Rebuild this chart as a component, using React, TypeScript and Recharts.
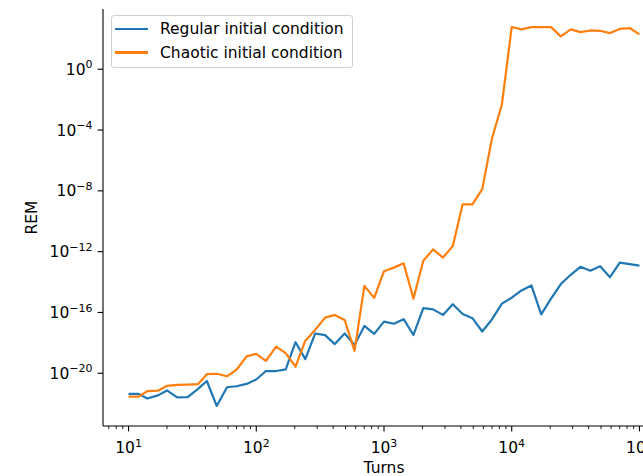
import { LineChart, Line, XAxis, YAxis, Legend } from 'recharts';

// Turn counts (log-spaced, 13 per decade)
const turns = [
  10, 12, 14, 17, 20, 24, 29, 35, 41, 49, 59, 70, 84, 100, 119, 143, 170, 203, 242, 289, 346, 412, 492,
  588, 702, 838, 1000, 1194, 1425, 1701, 2031, 2424, 2894, 3455, 4125, 4924, 5878, 7017, 8377, 10000,
  11938, 14251, 17013, 20310, 24245, 28943, 34551, 41246, 49239, 58780, 70170, 83768, 100000,
];

const regular = [
  4.4e-22, 4.4e-22, 2.2e-22, 3.5e-22, 7.4e-22, 2.6e-22, 2.7e-22, 9.3e-22, 3.1e-21, 7.1e-23,
  1.2e-21, 1.4e-21, 2.0e-21, 3.9e-21, 1.4e-20, 1.4e-20, 1.8e-20, 1.1e-18, 8.5e-20, 4.1e-18,
  3.2e-18, 8.3e-19, 4.1e-18, 7.2e-19, 1.3e-17, 3.9e-18, 2.5e-17, 1.8e-17, 3.6e-17, 3.3e-18,
  1.9e-16, 1.6e-16, 6.9e-17, 3.5e-16, 7.9e-17, 4.2e-17, 5.6e-18, 3.6e-17, 3.8e-16, 9.3e-16,
  2.8e-15, 6.0e-15, 7.4e-17, 8.1e-16, 7.4e-15, 3.0e-14, 1.0e-13, 5.6e-14, 1.1e-13, 2.1e-14,
  1.9e-13, 1.5e-13, 1.2e-13,
];

const chaotic = [
  2.9e-22, 2.9e-22, 6.6e-22, 7.1e-22, 1.5e-21, 1.7e-21, 1.8e-21, 1.9e-21, 8.7e-21, 9.3e-21,
  6.3e-21, 1.7e-20, 1.3e-19, 1.9e-19, 6.6e-20, 5.6e-19, 2.1e-19, 2.7e-20, 1.4e-18, 7.1e-18,
  4.6e-17, 6.9e-17, 3.2e-17, 3.0e-19, 5.6e-15, 9.1e-16, 5.2e-14, 8.9e-14, 1.7e-13, 7.9e-16,
  2.5e-13, 1.4e-12, 4.1e-13, 2.3e-12, 1.3e-9, 1.3e-9, 1.3e-8, 3.0e-5, 4.8e-3, 603,
  417, 589, 603, 589, 145, 417, 275, 355, 339, 240,
  447, 513, 195,
];

const xMajorTicks = [10, 100, 1000, 10000, 100000];
const xMinorTicks = [7, 8, 9, 20, 30, 40, 50, 60, 70, 80, 90, 200, 300, 400, 500, 600, 700, 800, 900,
  2000, 3000, 4000, 5000, 6000, 7000, 8000, 9000, 20000, 30000, 40000, 50000, 60000, 70000, 80000, 90000];
const yTicks = [1e-20, 1e-16, 1e-12, 1e-8, 1e-4, 1];

const seriesNames = ['Regular initial condition', 'Chaotic initial condition'];
const BLUE = '#1f77b4';
const ORANGE = '#ff7f0e';
const FONT = '"DejaVu Sans", sans-serif';
const FS = 15.5;

const data = turns.map((t, i) => ({ turns: t, regular: regular[i], chaotic: chaotic[i] }));

function expLabel(v: number) {
  const e = Math.round(Math.log10(v));
  return e < 0 ? `\u2212${-e}` : String(e);
}

function XTick({ x, y, payload }: any) {
  const major = xMajorTicks.includes(payload.value);
  return (
    <g>
      <line x1={x} x2={x} y1={y} y2={y + (major ? 5.4 : 3.1)} stroke="#000" strokeWidth={major ? 1.1 : 0.9} />
      {major && (
        <text x={x} y={y + 27} textAnchor="middle" fontFamily={FONT} fontSize={FS} fill="#000">
          10<tspan dy={-6.5} fontSize={11}>{expLabel(payload.value)}</tspan>
        </text>
      )}
    </g>
  );
}

function YTick({ x, y, payload }: any) {
  return (
    <g>
      <line x1={x - 5.4} x2={x} y1={y} y2={y} stroke="#000" strokeWidth={1.1} />
      <text x={x - 10.5} y={y + 5.6} textAnchor="end" fontFamily={FONT} fontSize={FS} fill="#000">
        10<tspan dy={-6.5} fontSize={11}>{expLabel(payload.value)}</tspan>
      </text>
    </g>
  );
}

function LegendBox() {
  const rows = [
    { name: seriesNames[0], color: BLUE },
    { name: seriesNames[1], color: ORANGE },
  ];
  return (
    <div
      style={{
        background: 'rgba(255,255,255,0.8)',
        border: '1px solid #d0d0d0',
        borderRadius: 3,
        padding: '1.5px 8px 2.7px 3px',
        fontFamily: FONT,
        fontSize: FS,
        color: '#000',
      }}
    >
      {rows.map((r) => (
        <div key={r.name} style={{ display: 'flex', alignItems: 'center', height: 23.4, whiteSpace: 'nowrap' }}>
          <span style={{ width: 33, height: 2.2, background: r.color, marginRight: 12 }} />
          <span>{r.name}</span>
        </div>
      ))}
    </div>
  );
}

export default function App() {
  return (
    <div style={{ position: 'fixed', left: 0, top: 0, width: 643, height: 476, overflow: 'hidden', background: '#fff' }}>
      <LineChart width={700} height={476} data={data} margin={{ top: 9, right: 35, left: 0, bottom: 0 }}>
        <XAxis
          dataKey="turns"
          type="number"
          scale="log"
          domain={[6.31, 158489]}
          allowDataOverflow
          ticks={[...xMinorTicks, ...xMajorTicks]}
          interval={0}
          tick={<XTick />}
          tickLine={false}
          tickSize={0}
          tickMargin={0}
          height={50}
          axisLine={{ stroke: '#000', strokeWidth: 1.1 }}
          label={{ value: 'Turns', position: 'insideBottom', offset: 3, style: { fontFamily: FONT, fontSize: FS, fill: '#000' } }}
        />
        <XAxis
          xAxisId="top"
          orientation="top"
          dataKey="turns"
          type="number"
          scale="log"
          domain={[6.31, 158489]}
          allowDataOverflow
          height={0}
          tick={false}
          tickLine={false}
          axisLine={{ stroke: '#000', strokeWidth: 1.1 }}
        />
        <YAxis
          type="number"
          scale="log"
          domain={[3.39e-24, 9180]}
          allowDataOverflow
          ticks={yTicks}
          interval={0}
          tick={<YTick />}
          tickLine={false}
          tickSize={0}
          tickMargin={0}
          width={103}
          axisLine={{ stroke: '#000', strokeWidth: 1.1 }}
          label={{
            value: 'REM',
            angle: -90,
            position: 'insideLeft',
            offset: 31,
            style: { textAnchor: 'middle', fontFamily: FONT, fontSize: FS, fill: '#000' },
          }}
        />
        <Legend
          layout="vertical"
          align="center"
          verticalAlign="middle"
          content={<LegendBox />}
          wrapperStyle={{ left: 111, top: 15, width: 'auto', height: 'auto' }}
        />
        <Line
          type="linear"
          dataKey="regular"
          name={seriesNames[0]}
          stroke={BLUE}
          strokeWidth={2.2}
          strokeLinejoin="round"
          dot={false}
          activeDot={false}
          isAnimationActive={false}
        />
        <Line
          type="linear"
          dataKey="chaotic"
          name={seriesNames[1]}
          stroke={ORANGE}
          strokeWidth={2.2}
          strokeLinejoin="round"
          dot={false}
          activeDot={false}
          isAnimationActive={false}
        />
      </LineChart>
    </div>
  );
}
